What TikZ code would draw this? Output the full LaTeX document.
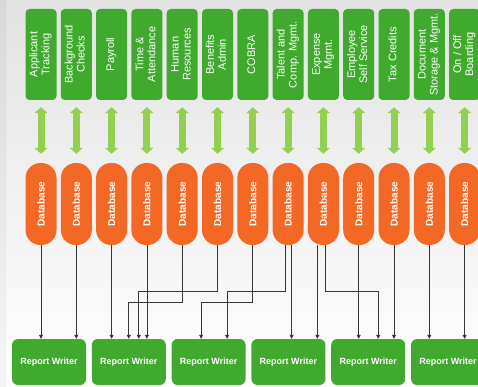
\documentclass[tikz,border=0pt]{standalone}
\usepackage{fontspec}
\setmainfont{Liberation Sans}
\usepackage{graphicx}
\usetikzlibrary{arrows.meta}

\definecolor{modgreen}{RGB}{63,170,45}
\definecolor{syncgreen}{RGB}{146,208,80}
\definecolor{dborange}{RGB}{243,104,36}
\definecolor{linkgray}{RGB}{55,55,55}

\newcommand{\vlabel}[1]{\rotatebox{90}{\begin{tabular}{@{}c@{}}#1\end{tabular}}}

\begin{document}
\begin{tikzpicture}[x=1pt,y=-1pt,
    module/.style={fill=modgreen, rounded corners=4pt, minimum width=31pt, minimum height=91pt,
        inner sep=0pt, text=white, font=\fontsize{11}{12}\selectfont},
    database/.style={fill=dborange, rounded corners=15pt, minimum width=31pt, minimum height=82pt,
        inner sep=0pt, text=white, font=\fontsize{10}{12}\selectfont\bfseries},
    writer/.style={fill=modgreen, rounded corners=6pt, minimum width=74pt, minimum height=46pt,
        inner sep=0pt, text=white, font=\fontsize{9}{11}\selectfont\bfseries},
    sync/.style={syncgreen, line width=7pt,
        {Triangle[width=13pt,length=6pt]}-{Triangle[width=13pt,length=6pt]},
        shorten <=7pt, shorten >=9pt},
    link/.style={linkgray, line width=0.7pt, -{Triangle[width=4pt,length=4pt]}}]

    % Background
    \useasboundingbox (0,0) rectangle (478,387);
    \clip (0,0) rectangle (478,387);
    \shade[top color=gray!22, bottom color=white] (0,0) rectangle (478,387);
    \shade[top color=gray!30, bottom color=gray!8] (0,0) rectangle (6,387);

    % Draw modules
    \foreach \name [count=\i from 0] in {{Applicant\\Tracking}, {Background\\Checks}, {Payroll},
        {Time \&\\Attendance}, {Human\\Resources}, {Benefits\\Admin}, {COBRA},
        {Talent and\\Comp. Mgmt.}, {Expense\\Mgmt.}, {Employee\\Self Service}, {Tax Credits},
        {Document\\Storage \& Mgmt.}, {On / Off\\Boarding}} {
        \node[module] (mod\i) at (41+35.3*\i, 54.5) {\vlabel{\name}};
    }

    % Draw databases
    \foreach \i in {0,...,12} {
        \node[database] (db\i) at (41+35.3*\i, 204) {\rotatebox{90}{Database}};
        \draw[sync] (mod\i) -- (db\i);
    }

    % Draw report writers
    \foreach \i in {1,...,6} {
        \node[writer] (rw\i) at (49+79.8*\i-79.8, 362) {Report Writer};
    }

    % Straight links
    \foreach \d/\w in {0/1, 1/1, 2/2, 3/2, 9/5, 10/5, 11/6, 12/6} {
        \draw[link] (db\d.south) -- (db\d.south |- rw\w.north);
    }
    \draw[link] ([xshift=3.5pt]db7.south) -- ([xshift=3.5pt]db7.south |- rw4.north);
    \draw[link] ([xshift=-6pt]db8.south) -- ([xshift=-6pt]db8.south |- rw4.north);

    % Routed links
    \coordinate (highbus) at (0,291.5);
    \coordinate (lowbus) at (0,302.5);
    \draw[link] (db4.south) -- (db4.south |- lowbus) -| (rw2.north);
    \draw[link] (db5.south) -- (db5.south |- highbus) -| ([xshift=10pt]rw2.north);
    \draw[link] (db6.south) -- (db6.south |- lowbus) -| ([xshift=-7.5pt]rw3.north);
    \draw[link] ([xshift=-2.5pt]db7.south) -- ([xshift=-2.5pt]db7.south |- highbus)
        -| ([xshift=18.5pt]rw3.north);
    \draw[link] ([xshift=1.5pt]db8.south) -- ([xshift=1.5pt]db8.south |- highbus)
        -| ([xshift=10pt]rw5.north);
\end{tikzpicture}
\end{document}
